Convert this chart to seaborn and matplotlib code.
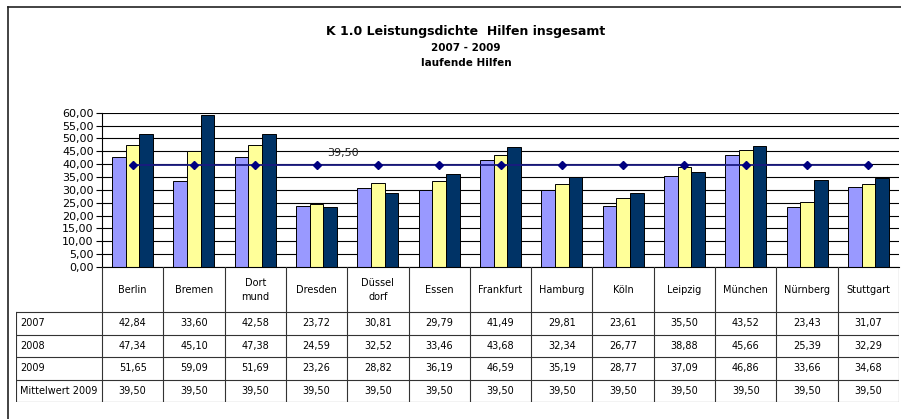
# Leistungsdichte Hilfen insgesamt 2007 - 2009, bar chart with data table

import pandas as pd
import matplotlib.pyplot as plt
import seaborn as sns
from matplotlib.lines import Line2D
from matplotlib.ticker import FuncFormatter

staedte = ["Berlin", "Bremen", "Dort\nmund", "Dresden", "Düssel\ndorf", "Essen",
           "Frankfurt", "Hamburg", "Köln", "Leipzig", "München", "Nürnberg", "Stuttgart"]
werte_2007 = [42.84, 33.60, 42.58, 23.72, 30.81, 29.79, 41.49, 29.81, 23.61, 35.50, 43.52, 23.43, 31.07]
werte_2008 = [47.34, 45.10, 47.38, 24.59, 32.52, 33.46, 43.68, 32.34, 26.77, 38.88, 45.66, 25.39, 32.29]
werte_2009 = [51.65, 59.09, 51.69, 23.26, 28.82, 36.19, 46.59, 35.19, 28.77, 37.09, 46.86, 33.66, 34.68]
mittelwert_2009 = [39.50] * 13
jahre = ["2007", "2008", "2009"]
zeilen = ["2007", "2008", "2009", "Mittelwert 2009"]

farben = ["#9999FF", "#FFFF99", "#003366"]

def de(v):
    return f"{v:.2f}".replace(".", ",")

df = pd.DataFrame({
    "Stadt": staedte * 3,
    "Jahr": [j for j in jahre for _ in staedte],
    "Wert": werte_2007 + werte_2008 + werte_2009,
})

plt.rcParams["font.family"] = ["DejaVu Sans"]

W, H = 901, 419
fig = plt.figure(figsize=(W / 100, H / 100), dpi=100)

# pixel layout
px_left, px_right, px_top, px_zero = 102, 899, 112.7, 267
px_tab_left, px_tab_bottom = 16, 402
n = len(staedte)
px_cat = (px_right - px_left) / n

ax = fig.add_axes([px_left / W, (H - px_zero) / H,
                   (px_right - px_left) / W, (px_zero - px_top) / H])

sns.barplot(data=df, x="Stadt", y="Wert", hue="Jahr", palette=farben,
            width=0.67, saturation=1, edgecolor="black", linewidth=0.7,
            errorbar=None, legend=False, ax=ax)

ax.plot(range(n), mittelwert_2009, color="#1A1A80", lw=1.3,
        marker="D", markersize=4, markerfacecolor="#000080",
        markeredgecolor="#000080", zorder=5)
ax.annotate(de(mittelwert_2009[3]), (3, mittelwert_2009[3]),
            xytext=(26, 12), textcoords="offset pixels",
            ha="center", va="center", fontsize=8, color="#222222")

ax.set_xlim(-0.5, n - 0.5)
ax.set_ylim(0, 60)
ax.set_yticks(range(0, 61, 5))
ax.yaxis.set_major_formatter(FuncFormatter(lambda v, p: de(v)))
ax.set_xticks([])
ax.set_xlabel("")
ax.set_ylabel("")
ax.tick_params(axis="y", length=4, width=0.8, pad=2, labelsize=8)
ax.set_axisbelow(True)
ax.yaxis.grid(True, color="black", lw=0.8)
for s in ["top", "right"]:
    ax.spines[s].set_visible(False)
ax.spines["left"].set_linewidth(0.8)
ax.spines["bottom"].set_linewidth(0.8)

# data table below the plot
tab_x0 = -0.5 - (px_left - px_tab_left) / px_cat
tab = fig.add_axes([px_tab_left / W, (H - px_tab_bottom) / H,
                    (px_right - px_tab_left) / W, (px_tab_bottom - px_zero) / H])
tab.set_xlim(tab_x0, n - 0.5)
tab.set_ylim(6, 0)
tab.axis("off")

lc, lw = "#333333", 0.8
for k in range(n + 1):
    tab.plot([k - 0.5, k - 0.5], [0, 6], color=lc, lw=lw)
tab.plot([tab_x0, tab_x0], [2, 6], color=lc, lw=lw)
for r in range(2, 7):
    tab.plot([tab_x0, n - 0.5], [r, r], color=lc, lw=lw)

for i, s in enumerate(staedte):
    tab.text(i, 1, s, ha="center", va="center", fontsize=7, linespacing=1.5)

reihen = [werte_2007, werte_2008, werte_2009, mittelwert_2009]
for r, (name, vals) in enumerate(zip(zeilen, reihen)):
    y = 2.5 + r
    tab.text(tab_x0 + 0.07, y, name, ha="left", va="center", fontsize=7)
    for i, v in enumerate(vals):
        tab.text(i, y, de(v), ha="center", va="center", fontsize=7)

# titles
fig.text(466 / W, 1 - 32 / H, "K 1.0 Leistungsdichte  Hilfen insgesamt",
         ha="center", va="center", fontsize=9, fontweight="bold")
fig.text(466 / W, 1 - 48 / H, "2007 - 2009", ha="center", va="center",
         fontsize=7.5, fontweight="bold")
fig.text(466 / W, 1 - 63.5 / H, "laufende Hilfen", ha="center", va="center",
         fontsize=7.5, fontweight="bold")

# outer chart frame (left and top edges)
fig.add_artist(Line2D([8 / W, 8 / W], [0, 1 - 7 / H], color="#222222", lw=1.2,
                      transform=fig.transFigure))
fig.add_artist(Line2D([8 / W, 1], [1 - 7 / H, 1 - 7 / H], color="#222222", lw=1.2,
                      transform=fig.transFigure))

plt.savefig("out.png", dpi=100)
